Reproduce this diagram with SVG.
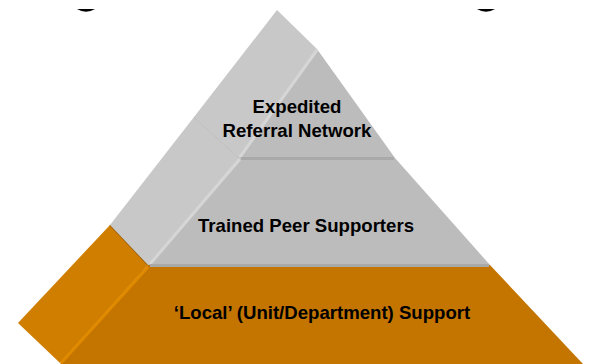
<svg xmlns="http://www.w3.org/2000/svg" width="594" height="364" viewBox="0 0 594 364">
  <style>
    .side-gray { fill: #c8c8c8; }
    .front-gray { fill: #bcbcbc; }
    .side-orange { fill: #d07e00; }
    .front-orange { fill: #c47500; }
    .crease { stroke: #b4b4b4; stroke-width: 1; fill: none; }
    .hl-gray { stroke: #d6d6d6; stroke-width: 3; fill: none; }
    .sh-gray { stroke: #a9a9a9; stroke-width: 3; fill: none; }
    .hl-orange { stroke: #e08a00; stroke-width: 3; fill: none; }
    .sh-orange { stroke: #9a5c00; stroke-width: 1.5; fill: none; }
    .label { font-family: "Liberation Sans", Arial, sans-serif; font-weight: bold; font-size: 18.6px; fill: #000; text-anchor: middle; }
    .mark { fill: #000; }
  </style>

  <!-- fragments of dark shapes cut off at the top edge -->
  <path class="mark" d="M77,9 L95,9 Q86,14.5 77,9 Z"/>
  <path class="mark" d="M477,9 L495,9 Q486,14.5 477,9 Z"/>

  <!-- base tier -->
  <g id="tier-local">
    <polygon class="side-orange" points="110,225 148,265 60,363 18,323"/>
    <polygon class="front-orange" points="148,265 490,265 583,364 60,364"/>
    <line class="sh-orange" x1="110" y1="225" x2="148" y2="265"/>
    <line class="hl-orange" x1="148" y1="267" x2="61" y2="363"/>
    <text class="label" x="322" y="319">‘Local’ (Unit/Department) Support</text>
  </g>

  <!-- middle tier -->
  <g id="tier-peer">
    <polygon class="side-gray" points="194,117 239,158 148,265 110,225"/>
    <polygon class="front-gray" points="239,158 395,158 490,265 148,265"/>
    <line class="crease" x1="194" y1="117" x2="239" y2="158"/>
    <line class="hl-gray" x1="240" y1="159" x2="150" y2="264"/>
    <line class="sh-gray" x1="150" y1="265.5" x2="489" y2="265.5"/>
    <text class="label" x="306" y="232">Trained Peer Supporters</text>
  </g>

  <!-- top tier -->
  <g id="tier-referral">
    <polygon class="side-gray" points="277,10 317,49 239,158 194,117"/>
    <polygon class="front-gray" points="317,49 395,158 239,158"/>
    <line class="hl-gray" x1="317" y1="50" x2="240" y2="157"/>
    <line class="sh-gray" x1="241" y1="158.5" x2="394" y2="158.5"/>
    <text class="label" x="297" y="113">Expedited</text>
    <text class="label" x="297" y="137">Referral Network</text>
  </g>
</svg>
